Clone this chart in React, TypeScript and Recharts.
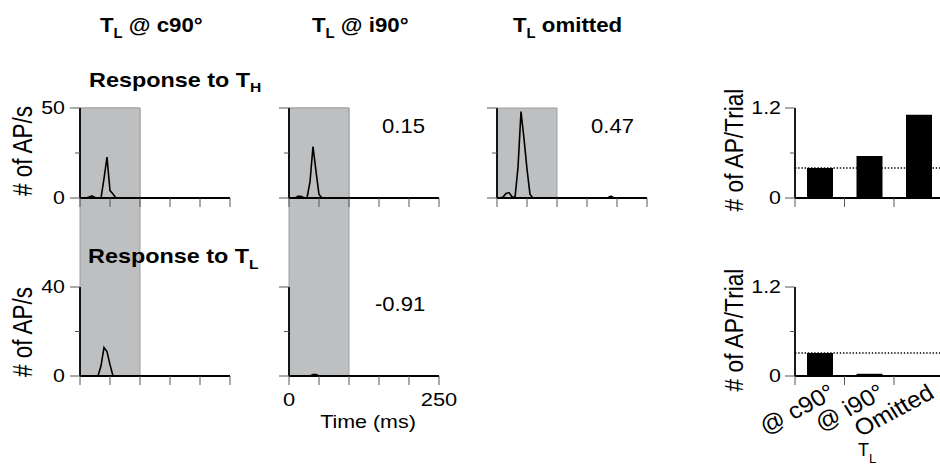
import React from 'react';
import {
  LineChart,
  Line,
  BarChart,
  Bar,
  XAxis,
  YAxis,
  ReferenceArea,
  ReferenceLine,
} from 'recharts';

// ─── Data ─────────────────────────────

// PSTH bin centres (ms)
const TIME_MS = [
  0, 5, 10, 15, 20, 25, 30, 35, 40, 45,
  50, 55, 60, 65, 70, 75, 80, 85, 90, 95,
  100, 105, 110, 115, 120, 125, 130, 135, 140, 145,
  150, 155, 160, 165, 170, 175, 180, 185, 190, 195,
  200, 205, 210, 215, 220, 225, 230, 235, 240, 245,
  250,
];

// # of AP/s — response to T_H
const TH_C90 = [
  0, 0, 0, 0.5, 1.2, 0.2, 0, 0, 10.8, 22.7,
  4.1, 2.2, 0, 0, 0, 0, 0, 0, 0, 0,
  0, 0, 0, 0, 0, 0, 0, 0, 0, 0,
  0, 0, 0, 0, 0, 0, 0, 0, 0, 0,
  0, 0, 0, 0, 0, 0, 0, 0, 0, 0,
  0,
];
const TH_I90 = [
  0, 0, 0, 1, 1, 0.2, 0, 9, 28.6, 14.8,
  2, 0, 0, 0, 0, 0, 0, 0, 0, 0,
  0, 0, 0, 0, 0, 0, 0, 0, 0, 0,
  0, 0, 0, 0, 0, 0, 0, 0, 0, 0,
  0, 0, 0, 0, 0, 0, 0, 0, 0, 0,
  0,
];
const TH_OMIT = [
  0, 0, 0.5, 2.5, 3, 0.7, 0.3, 17, 48, 33,
  16, 2, 0, 0, 0, 0, 0, 0, 0, 0,
  0, 0, 0, 0, 0, 0, 0, 0, 0, 0,
  0, 0, 0, 0, 0, 0, 0, 0.3, 1, 0,
  0, 0, 0, 0, 0, 0, 0, 0, 0, 0,
  0,
];

// # of AP/s — response to T_L
const TL_C90 = [
  0, 0, 0, 0, 0, 0, 0, 4.6, 12.8, 11,
  5.1, 0, 0, 0, 0, 0, 0, 0, 0, 0,
  0, 0, 0, 0, 0, 0, 0, 0, 0, 0,
  0, 0, 0, 0, 0, 0, 0, 0, 0, 0,
  0, 0, 0, 0, 0, 0, 0, 0, 0, 0,
  0,
];
const TL_I90 = [
  0, 0, 0, 0, 0, 0, 0, 0, 0.7, 0.7,
  0, 0, 0, 0, 0, 0, 0, 0, 0, 0,
  0, 0, 0, 0, 0, 0, 0, 0, 0, 0,
  0, 0, 0, 0, 0, 0, 0, 0, 0, 0,
  0, 0, 0, 0, 0, 0, 0, 0, 0, 0,
  0,
];

const STIM_MS = [0, 100];
const TIME_TICKS = [0, 50, 100, 150, 200, 250];
const TH_RATE_TICKS = [0, 25, 50];
const TL_RATE_TICKS = [0, 20, 40];

// # of AP/Trial per T_L condition
const CONDITIONS = ['@ c90°', '@ i90°', 'Omitted'];
const SLOT_EDGES = [0, 1, 2, 3];
const TH_AP_TRIAL = [0.4, 0.56, 1.11];
const TL_AP_TRIAL = [0.31, 0.03, 0.005];
const TH_BASELINE = 0.4;
const TL_BASELINE = 0.31;
const TRIAL_TICKS = [0, 0.6, 1.2];

// correlation values printed in the panels
const TH_CORR = ['0.15', '0.47'];
const TL_CORR = ['-0.91'];

// ─── Layout / style ──────────────────────

const FONT = '"Liberation Sans", Arial, Helvetica, sans-serif';
const YW = 60; // y axis band inside every chart
const PW = 150; // psth plot width
const COL_X = [80, 289, 497];
const ROW_H = { top: 108, bottom: 198 };
const ROW_L = { top: 287, bottom: 376 };
const BAR_X = 795;
const BAR_W = 148.5;
const AXIS = { stroke: '#000', strokeWidth: 1.8 };
const TICK = '#555';
const GRAY = '#bebfc1';

type Row = { top: number; bottom: number };

// ─── Tick renderers ──────────────────────

function makeYTick(majors: number[], showLabel: boolean, gap: number) {
  return (p: any) => {
    const v = p.payload.value;
    const y = p.payload.coordinate ?? p.y;
    const major = majors.includes(v);
    return (
      <g>
        <line x1={YW - (major ? 10 : 5)} x2={YW} y1={y} y2={y} stroke={TICK} strokeWidth={1} />
        {showLabel && major && (
          <text
            transform={`translate(${YW - gap},${y}) scale(1.22,1)`}
            textAnchor="end"
            dominantBaseline="central"
            fontSize={17.5}
            fontFamily={FONT}
            fill="#000"
          >
            {String(v)}
          </text>
        )}
      </g>
    );
  };
}

// ─── PSTH panel ──────────────────────────

function Psth({
  x,
  row,
  stimTop,
  yMax,
  yTicks,
  rates,
  yLabels = false,
  xLabels = false,
}: {
  x: number;
  row: Row;
  stimTop: number;
  yMax: number;
  yTicks: number[];
  rates: number[];
  yLabels?: boolean;
  xLabels?: boolean;
}) {
  const plotH = row.bottom - row.top;
  const mt = row.top - stimTop + 12;
  const axisY = mt + plotH;
  const data = TIME_MS.map((t, i) => ({ t, rate: rates[i] }));
  // stimulus box reaches up to the top row
  const stimHi = (yMax * (row.bottom - stimTop)) / plotH;

  const xTick = (p: any) => {
    const v = p.payload.value;
    const cx = p.payload.coordinate ?? p.x;
    const edge = v === TIME_TICKS[0] || v === TIME_TICKS[TIME_TICKS.length - 1];
    return (
      <g>
        <line x1={cx} x2={cx} y1={axisY} y2={axisY + 9} stroke={TICK} strokeWidth={1} />
        {xLabels && edge && (
          <text
            transform={`translate(${cx},${axisY + 30}) scale(1.15,1)`}
            textAnchor="middle"
            fontSize={19}
            fontFamily={FONT}
            fill="#000"
          >
            {String(v)}
          </text>
        )}
      </g>
    );
  };

  return (
    <div style={{ position: 'absolute', left: x - YW, top: row.top - mt }}>
      <LineChart
        width={YW + PW + 24}
        height={mt + plotH + 50}
        data={data}
        margin={{ top: mt, right: 24, bottom: 0, left: 0 }}
      >
        <XAxis
          dataKey="t"
          type="number"
          domain={[0, 250]}
          ticks={TIME_TICKS}
          interval={0}
          height={50}
          axisLine={AXIS}
          tickLine={false}
          tick={xTick}
        />
        <YAxis
          type="number"
          domain={[0, yMax]}
          ticks={yTicks}
          interval={0}
          width={YW}
          axisLine={AXIS}
          tickLine={false}
          tick={makeYTick([0, yMax], yLabels, 15)}
        />
        <ReferenceArea
          x1={STIM_MS[0]}
          x2={STIM_MS[1]}
          y1={0}
          y2={stimHi}
          ifOverflow="visible"
          fill={GRAY}
          fillOpacity={1}
          stroke="#9d9ea0"
          strokeWidth={1}
        />
        <Line
          type="linear"
          dataKey="rate"
          stroke="#000"
          strokeWidth={1.6}
          dot={false}
          isAnimationActive={false}
        />
      </LineChart>
    </div>
  );
}

// ─── AP per trial bars ───────────────────

function TrialBars({
  row,
  values,
  baseline,
  catLabels = false,
}: {
  row: Row;
  values: number[];
  baseline: number;
  catLabels?: boolean;
}) {
  const plotH = row.bottom - row.top;
  const mt = 12;
  const axisY = mt + plotH;
  const band = BAR_W / CONDITIONS.length;
  const data = CONDITIONS.map((name, i) => ({ name, slot: i + 0.5, ap: values[i] }));

  const xTick = (p: any) => {
    const v = p.payload.value;
    const cx = p.payload.coordinate ?? p.x;
    return (
      <g>
        <line x1={cx} x2={cx} y1={axisY} y2={axisY + 9} stroke={TICK} strokeWidth={1} />
        {catLabels && v < CONDITIONS.length && (
          <text
            transform={`translate(${cx + band / 2 + 17},${axisY + 21}) scale(1.08,1) rotate(-30)`}
            textAnchor="end"
            fontSize={23}
            fontFamily={FONT}
            fill="#000"
          >
            {CONDITIONS[v]}
          </text>
        )}
      </g>
    );
  };

  return (
    <div style={{ position: 'absolute', left: BAR_X - YW, top: row.top - mt }}>
      <BarChart
        width={YW + BAR_W + 10}
        height={mt + plotH + 90}
        data={data}
        margin={{ top: mt, right: 10, bottom: 0, left: 0 }}
      >
        <XAxis
          dataKey="slot"
          type="number"
          domain={[0, CONDITIONS.length]}
          ticks={SLOT_EDGES}
          interval={0}
          height={90}
          axisLine={AXIS}
          tickLine={false}
          tick={xTick}
        />
        <YAxis
          type="number"
          domain={[0, 1.2]}
          ticks={TRIAL_TICKS}
          interval={0}
          width={YW}
          axisLine={AXIS}
          tickLine={false}
          tick={makeYTick([0, 1.2], true, 14)}
        />
        <Bar dataKey="ap" fill="#000" barSize={26} isAnimationActive={false} />
        <ReferenceLine
          y={baseline}
          stroke="#000"
          strokeWidth={1.4}
          strokeDasharray="1.4 1.8"
        />
      </BarChart>
    </div>
  );
}

// ─── Text overlay ────────────────────────

function Txt({
  x,
  y,
  size,
  bold = false,
  sx = 1,
  rot = 0,
  anchor = 'start',
  children,
}: {
  x: number;
  y: number;
  size: number;
  bold?: boolean;
  sx?: number;
  rot?: number;
  anchor?: 'start' | 'middle' | 'end';
  children: React.ReactNode;
}) {
  return (
    <text
      transform={`translate(${x},${y}) scale(${sx},1) rotate(${rot})`}
      fontSize={size}
      fontWeight={bold ? 700 : 400}
      textAnchor={anchor}
      fontFamily={FONT}
      fill="#000"
      style={{ whiteSpace: 'pre' }}
    >
      {children}
    </text>
  );
}

function TextLayer() {
  return (
    <svg
      width={940}
      height={468}
      style={{ position: 'absolute', left: 0, top: 0, pointerEvents: 'none' }}
    >
      {/* column titles */}
      <Txt x={100} y={32} size={21} bold sx={1.06}>
        T<tspan fontSize={14} dy={6}>L</tspan>
        <tspan dy={-6}> @ c90°</tspan>
      </Txt>
      <Txt x={312} y={32} size={21} bold sx={1.06}>
        T<tspan fontSize={14} dy={6}>L</tspan>
        <tspan dy={-6}> @ i90°</tspan>
      </Txt>
      <Txt x={513} y={32} size={21} bold sx={1.06}>
        T<tspan fontSize={14} dy={6}>L</tspan>
        <tspan dy={-6}> omitted</tspan>
      </Txt>

      {/* row titles */}
      <Txt x={89} y={87} size={19.5} bold sx={1.2}>
        Response to T<tspan fontSize={13} dy={5}>H</tspan>
      </Txt>
      <Txt x={88} y={263} size={19.5} bold sx={1.2}>
        Response to T<tspan fontSize={13} dy={6}>L</tspan>
      </Txt>

      {/* correlation values */}
      <Txt x={382} y={133} size={21} sx={1.05}>{TH_CORR[0]}</Txt>
      <Txt x={591} y={133} size={21} sx={1.05}>{TH_CORR[1]}</Txt>
      <Txt x={375} y={311} size={21} sx={1.05}>{TL_CORR[0]}</Txt>

      {/* axis titles */}
      <Txt x={32} y={151} size={22.5} sx={1.2} rot={-90} anchor="middle"># of AP/s</Txt>
      <Txt x={32} y={332} size={22.5} sx={1.2} rot={-90} anchor="middle"># of AP/s</Txt>
      <Txt x={743} y={150} size={22.7} sx={1.1} rot={-90} anchor="middle"># of AP/Trial</Txt>
      <Txt x={743} y={330} size={22.7} sx={1.1} rot={-90} anchor="middle"># of AP/Trial</Txt>
      <Txt x={368} y={428} size={18.5} sx={1.16} anchor="middle">Time (ms)</Txt>
      <Txt x={858} y={456} size={18}>
        T<tspan fontSize={13} dy={7}>L</tspan>
      </Txt>
    </svg>
  );
}

// ─── App ─────────────────────────────────

export default function App() {
  return (
    <div
      style={{
        position: 'absolute',
        left: 0,
        top: 0,
        width: 940,
        height: 468,
        overflow: 'hidden',
        background: '#fff',
      }}
    >
      {/* bottom row first: its stimulus boxes run up behind the top row */}
      <Psth x={COL_X[0]} row={ROW_L} stimTop={ROW_H.top} yMax={40} yTicks={TL_RATE_TICKS} rates={TL_C90} yLabels />
      <Psth x={COL_X[1]} row={ROW_L} stimTop={ROW_H.top} yMax={40} yTicks={TL_RATE_TICKS} rates={TL_I90} xLabels />
      <Psth x={COL_X[0]} row={ROW_H} stimTop={ROW_H.top} yMax={50} yTicks={TH_RATE_TICKS} rates={TH_C90} yLabels />
      <Psth x={COL_X[1]} row={ROW_H} stimTop={ROW_H.top} yMax={50} yTicks={TH_RATE_TICKS} rates={TH_I90} />
      <Psth x={COL_X[2]} row={ROW_H} stimTop={ROW_H.top} yMax={50} yTicks={TH_RATE_TICKS} rates={TH_OMIT} />

      <TrialBars row={ROW_H} values={TH_AP_TRIAL} baseline={TH_BASELINE} />
      <TrialBars row={ROW_L} values={TL_AP_TRIAL} baseline={TL_BASELINE} catLabels />

      <TextLayer />
    </div>
  );
}
